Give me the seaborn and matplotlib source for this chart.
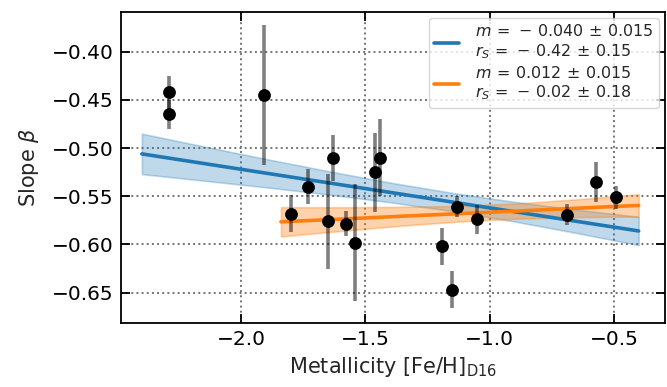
import numpy as np
import pandas as pd
import matplotlib
matplotlib.use("Agg")
import matplotlib.pyplot as plt
import seaborn as sns
from matplotlib.lines import Line2D

# ---- data ----
feh = [-2.29, -2.29, -1.91, -1.80, -1.73, -1.65, -1.63, -1.58, -1.54,
       -1.46, -1.44, -1.19, -1.15, -1.13, -1.05, -0.69, -0.57, -0.49]
beta = [-0.442, -0.465, -0.445, -0.568, -0.540, -0.576, -0.510, -0.5785, -0.598,
        -0.525, -0.510, -0.602, -0.647, -0.561, -0.574, -0.569, -0.535, -0.551]
beta_err = [0.017, 0.015, 0.073, 0.019, 0.018, 0.049, 0.024, 0.013, 0.061,
            0.041, 0.040, 0.019, 0.019, 0.011, 0.015, 0.011, 0.021, 0.012]

# fit 1 (all clusters): line and uncertainty band
fit1_x = [-2.4, -2.15, -1.9, -1.65, -1.4, -1.15, -0.9, -0.65, -0.4]
fit1_y = [-0.506, -0.516, -0.526, -0.536, -0.546, -0.556, -0.566, -0.576, -0.586]
fit1_lo = [-0.527, -0.5338, -0.5407, -0.5481, -0.5562, -0.5655, -0.5762, -0.5881, -0.6007]
fit1_hi = [-0.485, -0.4983, -0.5113, -0.5239, -0.5358, -0.5465, -0.5558, -0.5639, -0.5713]
fit1_label = "$m\\,=\\,-\\,0.040\\,\\pm\\,0.015$\n$r_S\\,=\\,-\\,0.42\\,\\pm\\,0.15$"

# fit 2 (metal-rich subset)
fit2_x = [-1.84, -1.6, -1.36, -1.12, -0.88, -0.64, -0.4]
fit2_y = [-0.5765, -0.5737, -0.5708, -0.568, -0.5652, -0.5623, -0.5595]
fit2_lo = [-0.5917, -0.5860, -0.5806, -0.5761, -0.5731, -0.5716, -0.5711]
fit2_hi = [-0.5613, -0.5614, -0.5610, -0.5599, -0.5573, -0.5530, -0.5479]
fit2_label = "$m\\,=\\,0.012\\,\\pm\\,0.015$\n$r_S\\,=\\,-\\,0.02\\,\\pm\\,0.18$"

xticks = [-2.0, -1.5, -1.0, -0.5]
yticks = [-0.40, -0.45, -0.50, -0.55, -0.60, -0.65]

# ---- style ----
sns.set_style("ticks")
plt.rcParams["font.family"] = ["DejaVu Sans"]
plt.rcParams["mathtext.fontset"] = "dejavusans"

blue = "#1f77b4"
orange = "#ff7f0e"

fig = plt.figure(figsize=(6.67, 3.87), dpi=100)
ax = fig.add_axes([0.181, 0.165, 0.816, 0.805])

df_pts = pd.DataFrame({"feh": feh, "beta": beta, "err": beta_err})
df1 = pd.DataFrame({"x": fit1_x, "y": fit1_y})
df2 = pd.DataFrame({"x": fit2_x, "y": fit2_y})

ax.fill_between(fit1_x, fit1_lo, fit1_hi, color=blue, alpha=0.28, lw=1.2, zorder=1)
ax.fill_between(fit2_x, fit2_lo, fit2_hi, color=orange, alpha=0.35, lw=1.2, zorder=1)
sns.lineplot(data=df1, x="x", y="y", color=blue, lw=2.6, ax=ax, zorder=2)
sns.lineplot(data=df2, x="x", y="y", color=orange, lw=2.6, ax=ax, zorder=2)

ax.errorbar(df_pts["feh"], df_pts["beta"], yerr=df_pts["err"], fmt="none",
            ecolor="black", alpha=0.5, elinewidth=2.6, capsize=0, zorder=3)
sns.scatterplot(data=df_pts, x="feh", y="beta", color="black", s=85,
                edgecolor="black", linewidth=0, ax=ax, zorder=4)

ax.set_xlim(-2.485, -0.294)
ax.set_ylim(-0.6817, -0.3583)
ax.set_xticks(xticks)
ax.set_yticks(yticks)
ax.set_xticklabels(["\u22122.0", "\u22121.5", "\u22121.0", "\u22120.5"])
ax.set_yticklabels(["\u22120.40", "\u22120.45", "\u22120.50", "\u22120.55", "\u22120.60", "\u22120.65"])
ax.tick_params(direction="in", length=6.5, width=1.3, labelsize=14.5,
               top=True, right=True, colors="black", pad=5)
for s in ax.spines.values():
    s.set_linewidth(1.3)
    s.set_color("black")
ax.grid(True, ls=":", color="0.45", lw=1.4)

ax.set_xlabel("Metallicity [Fe/H]$_{\\rm D16}$", fontsize=15)
ax.set_ylabel("Slope $\\beta$", fontsize=15, labelpad=8)

handles = [Line2D([], [], color=blue, lw=2.6), Line2D([], [], color=orange, lw=2.6)]
ax.legend(handles, [fit1_label, fit2_label], loc="upper right", fontsize=11.4,
          frameon=True, handlelength=1.55, labelspacing=0.25, borderpad=0.35,
          borderaxespad=0.4, handletextpad=1.0, framealpha=0.8, edgecolor="0.8")

fig.savefig("out.png", dpi=100)
